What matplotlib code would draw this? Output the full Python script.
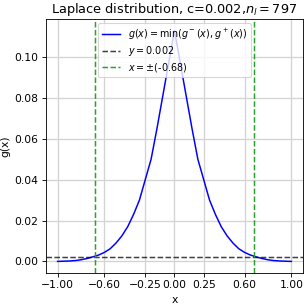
import matplotlib
matplotlib.use("Agg")
import matplotlib.pyplot as plt

x_vals = [-1.0, -0.95, -0.9, -0.85, -0.8, -0.75, -0.7, -0.65, -0.6, -0.55, -0.5, -0.45, -0.4,
          -0.35, -0.3, -0.25, -0.2, -0.15, -0.1, -0.05, 0.0,
          0.05, 0.1, 0.15, 0.2, 0.25, 0.3, 0.35, 0.4, 0.45, 0.5, 0.55, 0.6, 0.65, 0.7,
          0.75, 0.8, 0.85, 0.9, 0.95, 1.0]
g_vals = [0.0, 0.0001, 0.0002, 0.0004, 0.0008, 0.0014, 0.0022, 0.0031, 0.0044, 0.0062, 0.009,
          0.0125, 0.017, 0.023, 0.030, 0.040, 0.050, 0.065, 0.081, 0.097, 0.113,
          0.097, 0.081, 0.065, 0.050, 0.040, 0.030, 0.023, 0.017, 0.0125, 0.009, 0.0062,
          0.0044, 0.0031, 0.0022, 0.0014, 0.0008, 0.0004, 0.0002, 0.0001, 0.0]
c_level = 0.002
x_cut = 0.68
x_ticks = [-1.0, -0.6, -0.25, 0.0, 0.25, 0.6, 1.0]

fig = plt.figure(figsize=(4.0, 306/77), dpi=77)
ax = fig.add_axes([0.149, 0.108, 0.835, 0.830])
ax.plot(x_vals, g_vals, color='blue', lw=1.4, label=r'$g(x)=\min(g^-(x),g^+(x))$')
ax.axhline(c_level, color='black', ls='--', lw=1.4, alpha=0.75, label=r'$y=0.002$')
ax.axvline(-x_cut, color='#2ca02c', ls='--', lw=1.4, label=r'$x=\pm$(-0.68)')
ax.axvline(x_cut, color='#2ca02c', ls='--', lw=1.4)
ax.set_xticks(x_ticks)
ax.set_xticklabels([f'{t:.2f}'.replace('-', '\u2212') for t in x_ticks])
ax.set_xlabel('x')
ax.set_ylabel('g(x)')
ax.set_title('Laplace distribution, c=0.002,$n_l=797$')
ax.grid(True, color='#d3d3d3', lw=1.2)
ax.legend(loc='upper center', fontsize=9, labelspacing=0.25, handlelength=1.9,
          borderaxespad=0.4)
fig.savefig('out.png', dpi=77)
